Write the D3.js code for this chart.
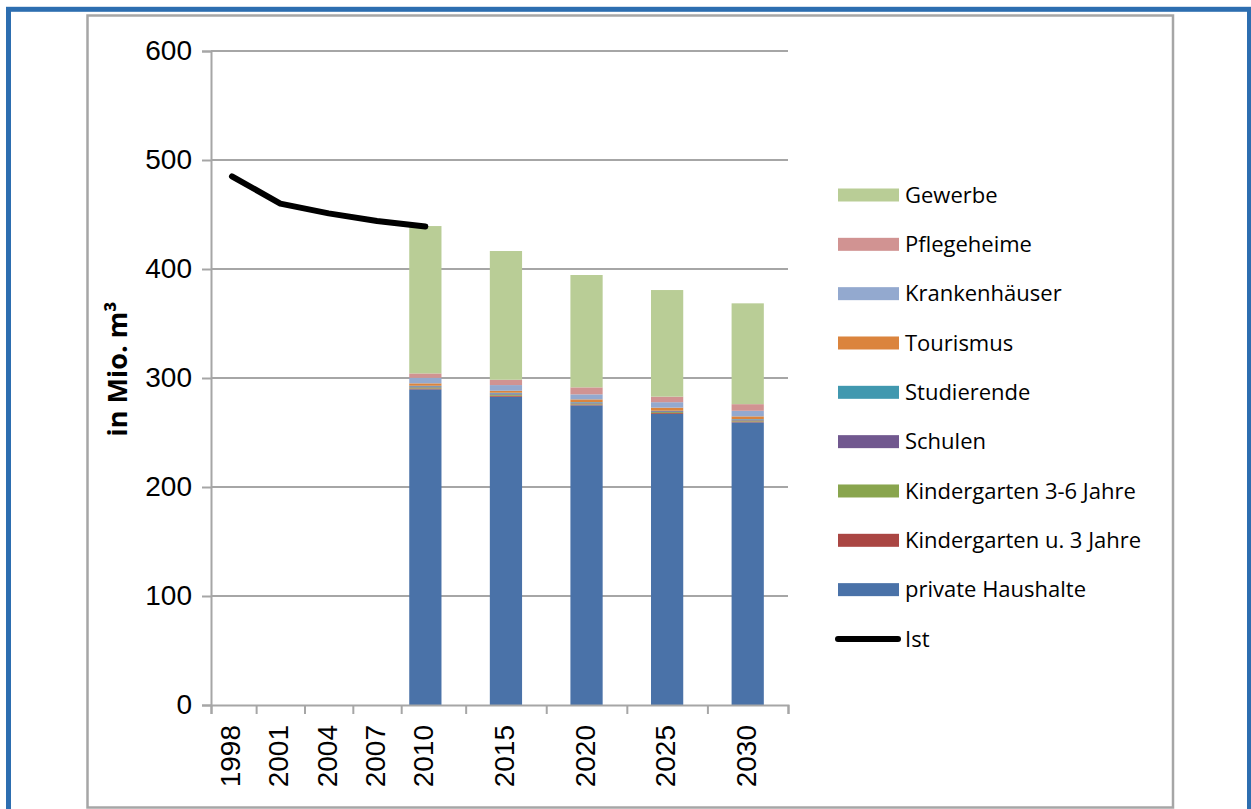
<!DOCTYPE html>
<html>
<head>
<meta charset="utf-8">
<script src="https://cdn.jsdelivr.net/npm/d3@7"></script>
<style>
  body { margin: 0; background: #fff; }
  svg { display: block; }
</style>
</head>
<body>
<svg width="1251" height="809"></svg>
<script>
// categories on the (date-like) x axis
var years = [1998, 2001, 2004, 2007, 2010, 2015, 2020, 2025, 2030];

// measured consumption, line "Ist"
var istYears = [1998, 2001, 2004, 2007, 2010];
var istValues = [485, 460, 451, 444, 439];

// forecast bars, in Mio. m3
var barYears = [2010, 2015, 2020, 2025, 2030];
var privateHaushalte = [289.6, 282.8, 274.9, 267.0, 259.3];
var kitaU3 = [0.8, 0.9, 0.8, 0.8, 0.8];
var kita36 = [1.0, 1.1, 0.9, 0.9, 0.9];
var schulen = [0.9, 1.0, 0.8, 0.8, 0.8];
var studierende = [0.6, 0.7, 0.5, 0.5, 0.5];
var tourismus = [2.2, 1.8, 2.5, 2.8, 2.5];
var krankenhaeuser = [5.1, 5.2, 4.6, 5.0, 5.1];
var pflegeheime = [4.0, 4.9, 6.4, 5.1, 6.1];
var gewerbe = [135.2, 118.1, 103.1, 97.8, 92.5];

var yTicks = [0, 100, 200, 300, 400, 500, 600];

var seriesKeys = ["hh", "ku3", "k36", "sch", "stu", "tou", "kra", "pfl", "gew"];
var seriesNames = {
    hh: "private Haushalte",
    ku3: "Kindergarten u. 3 Jahre",
    k36: "Kindergarten 3-6 Jahre",
    sch: "Schulen",
    stu: "Studierende",
    tou: "Tourismus",
    kra: "Krankenhäuser",
    pfl: "Pflegeheime",
    gew: "Gewerbe"
};
var seriesColors = {
    hh: "#4a72a8", ku3: "#aa4643", k36: "#89a54e", sch: "#71588f",
    stu: "#4198af", tou: "#db843d", kra: "#93a9cf", pfl: "#d19392", gew: "#b9cd96"
};

var table = barYears.map(function(y, i) {
    return {
        year: y, hh: privateHaushalte[i], ku3: kitaU3[i], k36: kita36[i],
        sch: schulen[i], stu: studierende[i], tou: tourismus[i],
        kra: krankenhaeuser[i], pfl: pflegeheime[i], gew: gewerbe[i]
    };
});

var svg = d3.select("svg");

// outer blue frame and chart area border
svg.append("rect")
    .attr("x", 8.5).attr("y", 9.3).attr("width", 1241).attr("height", 830)
    .attr("fill", "none").attr("stroke", "#2d6eb0").attr("stroke-width", 5);
svg.append("rect")
    .attr("x", 87.5).attr("y", 15.5).attr("width", 1085.5).attr("height", 792)
    .attr("fill", "#fff").attr("stroke", "#a6a6a6").attr("stroke-width", 2.5);

var x = d3.scaleLinear().domain([1996.7, 2032.5]).range([211, 788]);
var y = d3.scaleLinear().domain([0, 600]).range([705, 51]);

var gridColor = "#a6a6a6";

// gridlines
svg.append("g")
    .selectAll("line")
    .data(yTicks.filter(function(d) { return d > 0; }))
    .enter().append("line")
    .attr("x1", 211).attr("x2", 788)
    .attr("y1", function(d) { return y(d); })
    .attr("y2", function(d) { return y(d); })
    .attr("stroke", gridColor).attr("stroke-width", 2);

// stacked bars
var stack = d3.stack().keys(seriesKeys);
var stacked = stack(table);

svg.append("g")
    .selectAll("g")
    .data(stacked)
    .enter().append("g")
    .attr("fill", function(d) { return seriesColors[d.key]; })
    .selectAll("rect")
    .data(function(d) { return d; })
    .enter().append("rect")
    .attr("x", function(d) { return x(d.data.year - 1); })
    .attr("width", function(d) { return x(d.data.year + 1) - x(d.data.year - 1); })
    .attr("y", function(d) { return y(d[1]); })
    .attr("height", function(d) { return y(d[0]) - y(d[1]); });

// y axis
var yAxis = d3.axisLeft(y).tickValues(yTicks).tickSize(9).tickPadding(10);
var gy = svg.append("g").attr("transform", "translate(211,0)").call(yAxis);
gy.select(".domain").attr("stroke", gridColor).attr("stroke-width", 2);
gy.selectAll(".tick line").attr("stroke", gridColor).attr("stroke-width", 2);
gy.selectAll(".tick text")
    .attr("font-family", "'Liberation Sans', Arial, sans-serif")
    .attr("font-size", 28).attr("fill", "#000");

// x axis: ticks between categories, labels at categories
var bounds = [x.domain()[0]];
for (var i = 0; i < years.length - 1; i++) {
    bounds.push((years[i] + years[i + 1]) / 2);
}
bounds.push(x.domain()[1]);

var xAxis = d3.axisBottom(x).tickValues(bounds).tickSize(9).tickFormat("");
var gx = svg.append("g").attr("transform", "translate(0,705)").call(xAxis);
gx.select(".domain").attr("stroke", gridColor).attr("stroke-width", 2);
gx.selectAll(".tick line").attr("stroke", gridColor).attr("stroke-width", 2);

svg.append("g")
    .selectAll("text")
    .data(years)
    .enter().append("text")
    .attr("transform", function(d) { return "translate(" + (x(d) - 2) + ",725) rotate(-90)"; })
    .attr("text-anchor", "end")
    .attr("dy", "0.36em")
    .attr("font-family", "'Liberation Sans', Arial, sans-serif")
    .attr("font-size", 28)
    .text(function(d) { return d; });

// Ist line
var line = d3.line()
    .x(function(d, i) { return x(istYears[i]); })
    .y(function(d) { return y(d); });

svg.append("path")
    .datum(istValues)
    .attr("d", line)
    .attr("fill", "none")
    .attr("stroke", "#000")
    .attr("stroke-width", 6)
    .attr("stroke-linecap", "round")
    .attr("stroke-linejoin", "round");

// y title
svg.append("text")
    .attr("transform", "translate(117,369) rotate(-90)")
    .attr("text-anchor", "middle")
    .attr("dy", "0.36em")
    .attr("font-family", "'Open Sans', sans-serif")
    .attr("font-weight", "bold")
    .attr("font-size", 27)
    .text("in Mio. m³");

// legend
var legendKeys = seriesKeys.slice().reverse();
var legend = svg.append("g").attr("font-family", "'Open Sans', sans-serif").attr("font-size", 22);
var rowY = function(i) { return 195 + i * 49.33; };

legend.selectAll("rect")
    .data(legendKeys)
    .enter().append("rect")
    .attr("x", 838).attr("width", 61)
    .attr("y", function(d, i) { return rowY(i) - 6.5; })
    .attr("height", 13)
    .attr("fill", function(d) { return seriesColors[d]; });

legend.selectAll("text.lg")
    .data(legendKeys.concat(["ist"]))
    .enter().append("text")
    .attr("class", "lg")
    .attr("x", 905)
    .attr("y", function(d, i) { return rowY(i); })
    .attr("dy", "0.35em")
    .text(function(d) { return d === "ist" ? "Ist" : seriesNames[d]; });

legend.append("line")
    .attr("x1", 838).attr("x2", 898)
    .attr("y1", rowY(9)).attr("y2", rowY(9))
    .attr("stroke", "#000").attr("stroke-width", 6)
    .attr("stroke-linecap", "round");
</script>
</body>
</html>
